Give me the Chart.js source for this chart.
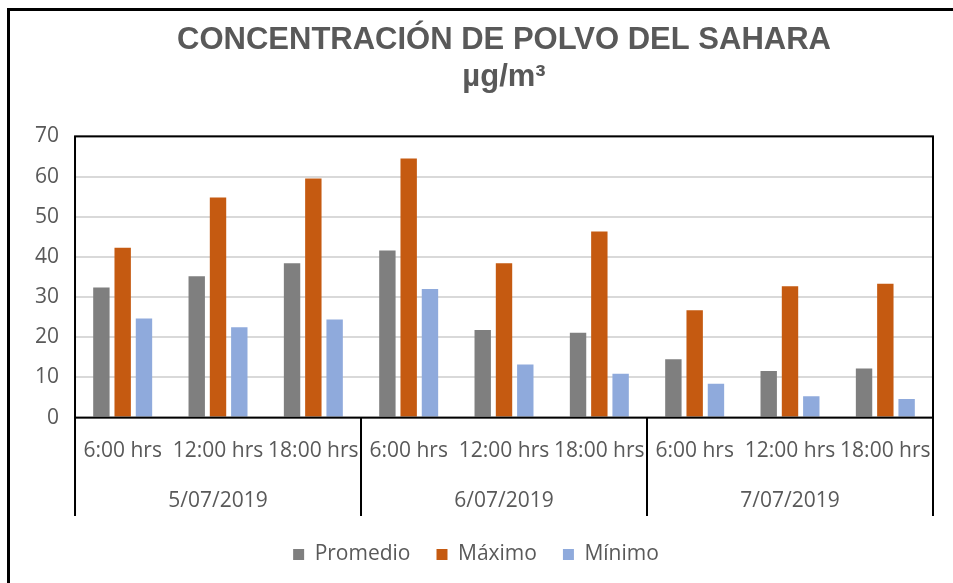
<!DOCTYPE html>
<html>
<head>
<meta charset="utf-8">
<script src="https://cdn.jsdelivr.net/npm/chart.js@4/dist/chart.umd.min.js"></script>
<style>
  html, body { margin: 0; padding: 0; background: #fff; overflow: hidden; }
  #wrap { position: relative; width: 953px; height: 583px; }
  #frame { position: absolute; left: 7px; top: 8px; width: 1000px; height: 700px;
           border-left: 3px solid #000; border-top: 3px solid #000; }
  #myChart { position: absolute; left: 0; top: 0; }
</style>
</head>
<body>
<div id="wrap">
  <div id="frame"></div>
  <canvas id="myChart" width="953" height="583"></canvas>
</div>
<script>
const horas = ['6:00 hrs', '12:00 hrs', '18:00 hrs', '6:00 hrs', '12:00 hrs', '18:00 hrs', '6:00 hrs', '12:00 hrs', '18:00 hrs'];
const fechas = ['5/07/2019', '6/07/2019', '7/07/2019'];

const promedio = [32.4, 35.2, 38.4, 41.6, 21.8, 21.1, 14.5, 11.6, 12.2];
const maximo = [42.3, 54.8, 59.5, 64.5, 38.4, 46.3, 26.7, 32.7, 33.3];
const minimo = [24.7, 22.5, 24.4, 32.0, 13.2, 10.9, 8.4, 5.3, 4.6];

const textColor = '#595959';
const tickFont = { family: 'Open Sans', size: 21 };

// black box round the plot area and the date separators under the axis
const boxPlugin = {
  id: 'boxPlugin',
  afterDraw(chart) {
    const ctx = chart.ctx;
    const a = chart.chartArea;
    const x2 = chart.scales.x2;
    ctx.save();
    ctx.strokeStyle = '#000';
    ctx.lineWidth = 2;
    ctx.strokeRect(a.left, a.top, a.right - a.left, a.bottom - a.top);
    const n = fechas.length;
    const w = (x2.right - x2.left) / n;
    ctx.beginPath();
    for (let k = 0; k <= n; k++) {
      const x = x2.left + k * w;
      ctx.moveTo(x, a.bottom);
      ctx.lineTo(x, x2.bottom - 2);
    }
    ctx.stroke();
    ctx.restore();
  }
};

const data = {
  labels: horas,
  datasets: [
    { label: 'Promedio', data: promedio, backgroundColor: '#7f7f7f' },
    { label: 'Máximo', data: maximo, backgroundColor: '#c55a11' },
    { label: 'Mínimo', data: minimo, backgroundColor: '#8faadc' }
  ]
};

const config = {
  type: 'bar',
  data: data,
  options: {
    responsive: false,
    animation: false,
    categoryPercentage: 0.67,
    barPercentage: 0.77,
    layout: { padding: { left: 19, right: 20, top: 22, bottom: 8 } },
    plugins: {
      title: {
        display: true,
        fullSize: false,
        text: ['CONCENTRACIÓN DE POLVO DEL SAHARA', 'µg/m³'],
        color: textColor,
        font: { family: 'Liberation Sans', size: 31, weight: 'bold', lineHeight: 1.2 },
        padding: { top: 0, bottom: 40 }
      },
      legend: {
        position: 'bottom',
        labels: {
          color: textColor,
          font: tickFont,
          boxWidth: 11,
          boxHeight: 11,
          padding: 26
        }
      },
      tooltip: { enabled: false }
    },
    scales: {
      x: {
        grid: { display: false },
        border: { display: false },
        ticks: { color: textColor, font: tickFont, maxRotation: 0, autoSkip: false, padding: 13 }
      },
      x2: {
        type: 'category',
        labels: fechas,
        position: 'bottom',
        grid: { display: false },
        border: { display: false },
        ticks: { color: textColor, font: tickFont, maxRotation: 0, padding: 4 }
      },
      y: {
        min: 0,
        max: 70,
        ticks: { stepSize: 10, color: textColor, font: tickFont, padding: 16 },
        grid: { color: '#d9d9d9', lineWidth: 2, drawTicks: false },
        border: { display: false }
      }
    }
  },
  plugins: [boxPlugin]
};

const myChart = new Chart(document.getElementById('myChart'), config);
</script>
</body>
</html>
